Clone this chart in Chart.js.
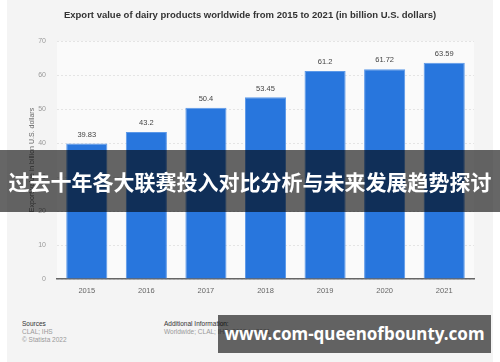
<!DOCTYPE html>
<html lang="en">
<head>
    <meta charset="UTF-8">
    <title>Export value of dairy products worldwide</title>
    <script src="https://cdn.jsdelivr.net/npm/chart.js"></script>
    <style>
        html, body { margin: 0; padding: 0; background: #fff; }
        body { width: 500px; height: 362px; position: relative; overflow: hidden; font-family: "Liberation Sans", Arial, sans-serif; }
        .panel { position: absolute; left: 7px; top: 0; width: 486px; height: 362px; background: #f4f4f4; }
        .title { position: absolute; left: 0; width: 486px; top: 9px; text-align: center; font-size: 9.5px; font-weight: bold; color: #333; }
        canvas { position: absolute; left: 0; top: 0; }
        .foot { position: absolute; top: 320px; font-size: 6.5px; line-height: 8px; color: #999; }
        .foot b { font-weight: normal; color: #333; }
        .banner { position: absolute; left: 0; top: 150px; width: 500px; height: 62px; background: rgba(0,0,0,0.6);
                  color: #fff; font-family: "Noto Sans CJK SC", sans-serif; font-weight: bold; font-size: 21px;
                  line-height: 62px; text-align: center; white-space: nowrap; }
        .mark { position: absolute; left: 218px; top: 315px; width: 273px; height: 38px; background: rgba(0,0,0,0.6);
                color: #fff; font-family: "Noto Sans", sans-serif; font-weight: bold; font-size: 17px;
                line-height: 38px; text-align: center; white-space: nowrap; }
    </style>
</head>
<body>
    <div class="panel">
        <canvas id="chart" width="486" height="300"></canvas>
        <div class="title">Export value of dairy products worldwide from 2015 to 2021 (in billion U.S. dollars)</div>
        <div class="foot" style="left:15px"><b>Sources</b><br>CLAL; IHS<br>© Statista 2022</div>
        <div class="foot" style="left:157px"><b>Additional Information:</b><br>Worldwide; CLAL; IHS; 2015 to 2021</div>
    </div>
    <div class="banner">过去十年各大联赛投入对比分析与未来发展趋势探讨</div>
    <div class="mark">www.com-queenofbounty.com</div>

    <script>
        // 데이터
        const years = ["2015", "2016", "2017", "2018", "2019", "2020", "2021"];
        const exportValues = [39.83, 43.2, 50.4, 53.45, 61.2, 61.72, 63.59];
        const valueLabels = ["39.83", "43.2", "50.4", "53.45", "61.2", "61.72", "63.59"];

        // 막대 위 값 표시
        const barLabels = {
            id: 'barLabels',
            afterDatasetsDraw(chart) {
                const ctx = chart.ctx;
                const meta = chart.getDatasetMeta(0);
                ctx.save();
                ctx.font = '7.5px "Liberation Sans", Arial, sans-serif';
                ctx.fillStyle = '#444';
                ctx.textAlign = 'center';
                ctx.textBaseline = 'bottom';
                meta.data.forEach((bar, i) => {
                    ctx.fillText(valueLabels[i], bar.x, bar.y - 5);
                });
                ctx.restore();
            }
        };

        // 플롯 배경
        const plotBg = {
            id: 'plotBg',
            beforeDraw(chart) {
                const a = chart.chartArea;
                const ctx = chart.ctx;
                ctx.save();
                ctx.fillStyle = '#fafafa';
                ctx.fillRect(a.left, a.top, a.right - a.left, a.bottom - a.top);
                ctx.restore();
            }
        };

        new Chart(document.getElementById('chart'), {
            type: 'bar',
            data: {
                labels: years,
                datasets: [{
                    data: exportValues,
                    backgroundColor: '#2876dd',
                    borderColor: '#5b98e8',
                    borderWidth: { top: 1, left: 1, right: 1, bottom: 0 },
                    categoryPercentage: 1,
                    barPercentage: 0.69
                }]
            },
            options: {
                responsive: false,
                animation: false,
                layout: { padding: { top: 41, right: 19, left: 0, bottom: 0 } },
                plugins: { legend: { display: false }, tooltip: { enabled: false }, title: { display: false } },
                scales: {
                    x: {
                        afterFit(s) { s.height = 21; },
                        grid: { display: false, drawTicks: false },
                        border: { color: '#666', width: 1.5 },
                        ticks: { color: '#666', padding: 7, font: { size: 7.5, family: '"Liberation Sans", Arial, sans-serif' } }
                    },
                    y: {
                        min: 0, max: 70,
                        afterFit(s) { s.width = 50; },
                        ticks: { stepSize: 10, color: '#999', padding: 11, font: { size: 7, family: '"Liberation Sans", Arial, sans-serif' } },
                        grid: { color: '#e4e4e4', drawTicks: false },
                        border: { display: false, dash: [2, 2] },
                        title: {
                            display: true,
                            text: 'Export value in billion U.S. dollars',
                            color: '#666',
                            padding: { top: 21, bottom: 0 },
                            font: { size: 7, family: '"Liberation Sans", Arial, sans-serif' }
                        }
                    }
                }
            },
            plugins: [plotBg, barLabels]
        });
    </script>
</body>
</html>
